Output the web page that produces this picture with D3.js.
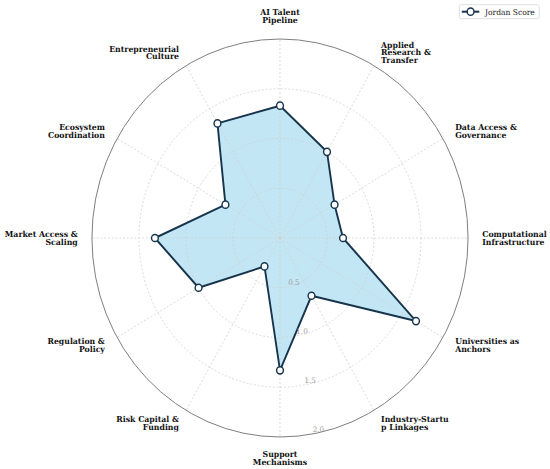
<!DOCTYPE html>
<html>
<head>
<meta charset="utf-8">
<script src="https://cdn.jsdelivr.net/npm/d3@7"></script>
<style>
  html, body { margin: 0; padding: 0; background: #fff; }
  svg { display: block; }
</style>
</head>
<body>
<div class="graph"></div>
<script>
const width = 550;
const height = 469;

// the picture is a little narrower than tall, so everything is squeezed on x
const squeeze = 0.945;
const cx = 280 / squeeze;
const cy = 238;
const outerRadius = 199;

const categories = [
  ["AI Talent", "Pipeline"],
  ["Applied", "Research &", "Transfer"],
  ["Data Access &", "Governance"],
  ["Computational", "Infrastructure"],
  ["Universities as", "Anchors"],
  ["Industry-Startu", "p Linkages"],
  ["Support", "Mechanisms"],
  ["Risk Capital &", "Funding"],
  ["Regulation &", "Policy"],
  ["Market Access &", "Scaling"],
  ["Ecosystem", "Coordination"],
  ["Entrepreneurial", "Culture"],
];

const jordanScore = [1.33, 1.0, 0.67, 0.67, 1.67, 0.67, 1.33, 0.33, 1.0, 1.33, 0.67, 1.33];

const radialTicks = [0.5, 1.0, 1.5, 2.0];
const seriesName = "Jordan Score";

const lineColor = "#17344d";
const fillColor = "#87ceeb";
const gridColor = "#cfcfcf";

const svg = d3
  .select(".graph")
  .append("svg")
  .attr("width", width)
  .attr("height", height);

const root = svg.append("g").attr("transform", "scale(" + squeeze + ",1)");

const rScale = d3.scaleLinear().domain([0, 2]).range([0, outerRadius]);
const angleScale = d3
  .scaleLinear()
  .domain([0, categories.length])
  .range([0, 2 * Math.PI]);

const chart = root.append("g").attr("transform", "translate(" + cx + "," + cy + ")");

// filled area and outline
const radarLine = d3
  .lineRadial()
  .angle((d, i) => angleScale(i))
  .radius((d) => rScale(d))
  .curve(d3.curveLinearClosed);

chart
  .append("path")
  .datum(jordanScore)
  .attr("d", radarLine)
  .attr("fill", fillColor)
  .attr("fill-opacity", 0.5)
  .attr("stroke", "none");

// grid circles
chart
  .selectAll(".grid-circle")
  .data(radialTicks.slice(0, -1))
  .enter()
  .append("circle")
  .attr("class", "grid-circle")
  .attr("r", (d) => rScale(d))
  .attr("fill", "none")
  .attr("stroke", gridColor)
  .attr("stroke-width", 0.8)
  .attr("stroke-dasharray", "2,2");

// spokes
chart
  .selectAll(".spoke")
  .data(categories)
  .enter()
  .append("line")
  .attr("class", "spoke")
  .attr("x1", 0)
  .attr("y1", 0)
  .attr("x2", (d, i) => d3.pointRadial(angleScale(i), outerRadius)[0])
  .attr("y2", (d, i) => d3.pointRadial(angleScale(i), outerRadius)[1])
  .attr("stroke", gridColor)
  .attr("stroke-width", 0.8)
  .attr("stroke-dasharray", "2,2");

// outer frame
chart
  .append("circle")
  .attr("r", rScale(2))
  .attr("fill", "none")
  .attr("stroke", "#7a7a7a")
  .attr("stroke-width", 1);

chart
  .append("path")
  .datum(jordanScore)
  .attr("d", radarLine)
  .attr("fill", "none")
  .attr("stroke", lineColor)
  .attr("stroke-width", 2)
  .attr("stroke-linejoin", "round");

chart
  .selectAll(".dot")
  .data(jordanScore)
  .enter()
  .append("circle")
  .attr("class", "dot")
  .attr("cx", (d, i) => d3.pointRadial(angleScale(i), rScale(d))[0])
  .attr("cy", (d, i) => d3.pointRadial(angleScale(i), rScale(d))[1])
  .attr("r", 3.6)
  .attr("fill", "#fff")
  .attr("stroke", lineColor)
  .attr("stroke-width", 1.5);

// radial tick labels, sitting just off the 170 degree line
const tickAngle = (170 * Math.PI) / 180;
chart
  .selectAll(".r-tick")
  .data(radialTicks)
  .enter()
  .append("text")
  .attr("class", "r-tick")
  .attr("x", (d) => d3.pointRadial(tickAngle, rScale(d))[0])
  .attr("y", (d) => d3.pointRadial(tickAngle, rScale(d))[1] - 1.5)
  .attr("text-anchor", "start")
  .attr("font-family", "DejaVu Serif")
  .attr("font-size", 7.6)
  .attr("fill", "#9a9a9a")
  .text((d) => d.toFixed(1));

// category labels
const labelRadius = outerRadius + 15;
const lineHeight = 7.8;
const fontSize = 8.2;

chart
  .selectAll(".cat-label")
  .data(categories)
  .enter()
  .append("text")
  .attr("class", "cat-label")
  .attr("font-family", "DejaVu Serif")
  .attr("font-weight", "bold")
  .attr("font-size", fontSize)
  .attr("fill", "#111")
  .each(function (d, i) {
    const a = angleScale(i);
    const [x, y] = d3.pointRadial(a, labelRadius);
    const sin = Math.sin(a);
    const cos = Math.cos(a);
    let anchor = "middle";
    if (sin > 0.01) anchor = "start";
    if (sin < -0.01) anchor = "end";
    let firstBase;
    if (Math.abs(sin) < 0.01 && cos > 0) {
      firstBase = y - 1 - (d.length - 1) * lineHeight;
    } else if (Math.abs(sin) < 0.01 && cos < 0) {
      firstBase = y + 5.5;
    } else {
      firstBase = y - ((d.length - 1) * lineHeight) / 2 + 2.8;
    }
    d3.select(this)
      .attr("text-anchor", anchor)
      .selectAll("tspan")
      .data(d)
      .enter()
      .append("tspan")
      .attr("x", x)
      .attr("y", (t, j) => firstBase + j * lineHeight)
      .text((t) => t);
  });

// legend
const legendX = 459.3 / squeeze;
const legend = root.append("g").attr("transform", "translate(" + legendX + ",4.7)");

legend
  .append("rect")
  .attr("width", 80 / squeeze)
  .attr("height", 14)
  .attr("rx", 2)
  .attr("fill", "#fff")
  .attr("stroke", "#d6d6d6")
  .attr("stroke-width", 0.8);

legend
  .append("line")
  .attr("x1", 2.5 / squeeze)
  .attr("x2", 20 / squeeze)
  .attr("y1", 7)
  .attr("y2", 7)
  .attr("stroke", lineColor)
  .attr("stroke-width", 2);

legend
  .append("circle")
  .attr("cx", 11.3 / squeeze)
  .attr("cy", 7)
  .attr("r", 3.6)
  .attr("fill", "#fff")
  .attr("stroke", lineColor)
  .attr("stroke-width", 1.5);

legend
  .append("text")
  .attr("x", 25.7 / squeeze)
  .attr("y", 9.9)
  .attr("font-family", "DejaVu Serif")
  .attr("font-size", 8)
  .attr("fill", "#222")
  .text(seriesName);
</script>
</body>
</html>
